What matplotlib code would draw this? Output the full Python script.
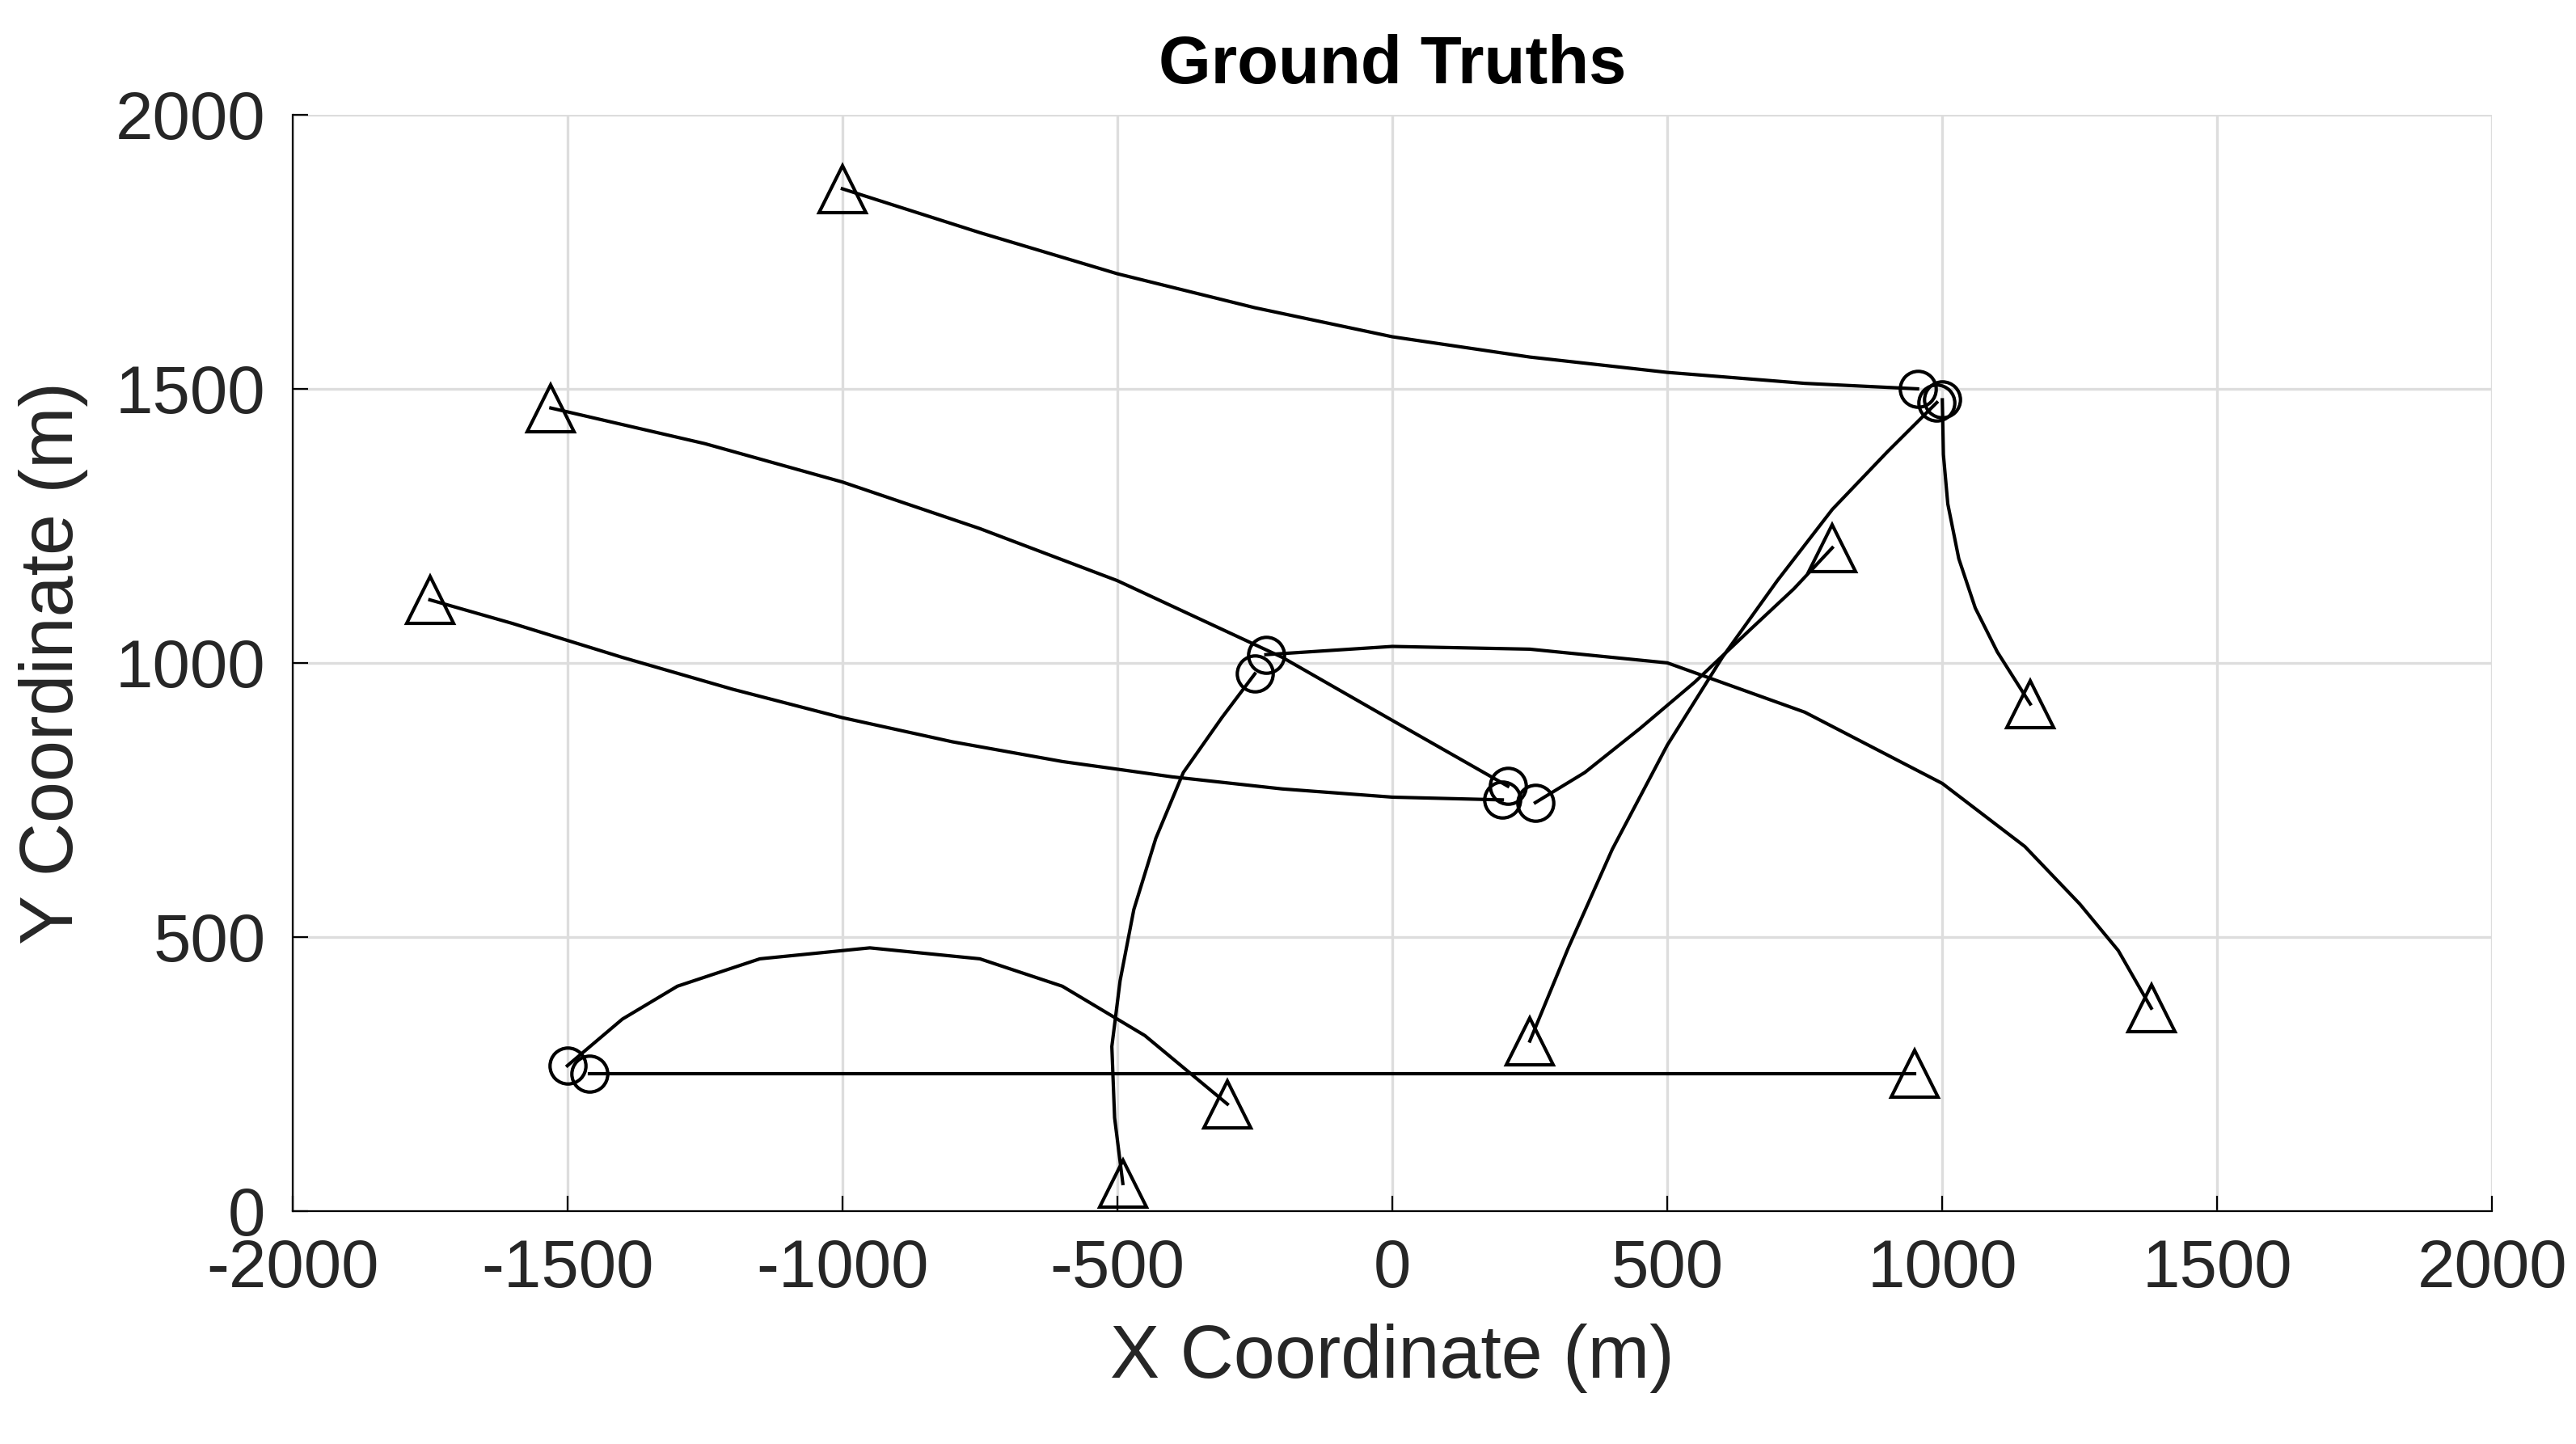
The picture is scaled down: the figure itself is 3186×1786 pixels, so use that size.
import matplotlib
matplotlib.use("Agg")
import matplotlib.pyplot as plt

plt.rcParams['font.family'] = ['Liberation Sans', 'DejaVu Sans']
plt.rcParams['axes.unicode_minus'] = False

track1_x = [955, 750, 500, 250, 0, -250, -500, -750, -1000]
track1_y = [1500, 1510, 1530, 1558, 1595, 1648, 1710, 1785, 1865]
track2_x = [1000, 1002, 1010, 1030, 1060, 1100, 1160]
track2_y = [1480, 1380, 1290, 1190, 1100, 1020, 925]
track3_x = [990, 900, 800, 700, 600, 500, 400, 320, 250]
track3_y = [1475, 1385, 1280, 1150, 1010, 850, 660, 480, 310]
track4_x = [260, 350, 450, 550, 650, 730, 800]
track4_y = [745, 800, 880, 965, 1060, 1135, 1210]
track5_x = [210, 0, -200, -500, -750, -1000, -1250, -1530]
track5_y = [775, 895, 1010, 1150, 1245, 1330, 1400, 1465]
track6_x = [200, 0, -200, -400, -600, -800, -1000, -1200, -1400, -1600, -1750]
track6_y = [750, 755, 770, 792, 820, 856, 900, 952, 1010, 1072, 1115]
track7_x = [-230, 0, 250, 500, 750, 1000, 1150, 1250, 1320, 1380]
track7_y = [1015, 1030, 1025, 1000, 910, 780, 665, 560, 475, 370]
track8_x = [-250, -310, -380, -430, -470, -495, -510, -505, -490]
track8_y = [980, 900, 800, 680, 550, 420, 300, 170, 50]
track9_x = [-1500, -1400, -1300, -1150, -950, -750, -600, -450, -300]
track9_y = [265, 350, 410, 460, 480, 460, 410, 320, 195]
track10_x = [-1460, 950]
track10_y = [250, 250]

tracks = [(track1_x, track1_y), (track2_x, track2_y), (track3_x, track3_y),
          (track4_x, track4_y), (track5_x, track5_y), (track6_x, track6_y),
          (track7_x, track7_y), (track8_x, track8_y), (track9_x, track9_y),
          (track10_x, track10_y)]

fig = plt.figure(figsize=(15.93, 8.93), dpi=200)
ax = fig.add_axes([0.1135, 0.1614, 0.854, 0.7591])
for xs, ys in tracks:
    ax.plot(xs, ys, color='black', lw=1.5)
    ax.plot(xs[0], ys[0], 'o', mfc='none', mec='black', ms=16, mew=1.5)
    ax.plot(xs[-1], ys[-1], '^', mfc='none', mec='black', ms=21, mew=1.5)

ax.set_xlim(-2000, 2000)
ax.set_ylim(0, 2000)
ax.set_xticks(range(-2000, 2001, 500))
ax.set_yticks(range(0, 2001, 500))
ax.grid(True, color='#dddddd', lw=1.2)
ax.set_axisbelow(True)
ax.tick_params(labelsize=30, direction='in', length=7, pad=12, labelcolor='#262626')
for s in ['top', 'right']:
    ax.spines[s].set_visible(False)
ax.set_xlabel('X Coordinate (m)', fontsize=33, color='#262626', labelpad=10)
ax.set_ylabel('Y Coordinate (m)', fontsize=33, color='#262626', labelpad=12)
ax.set_title('Ground Truths', fontsize=30, fontweight='bold', pad=14)
fig.savefig('out.png', dpi=200)
